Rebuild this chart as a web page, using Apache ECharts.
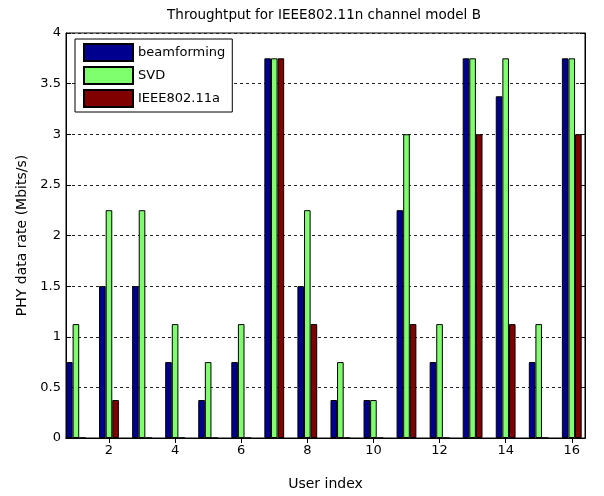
<!DOCTYPE html>
<html>
<head>
<meta charset="utf-8">
<script src="https://cdn.jsdelivr.net/npm/echarts@6/dist/echarts.min.js"></script>
<style>
    html, body { margin: 0; padding: 0; background: #fff; }
    #bar-chart { width: 604px; height: 496px; }
</style>
</head>
<body>
<div id="bar-chart"></div>
<script>
    // user index 1..16
    var users = [1, 2, 3, 4, 5, 6, 7, 8, 9, 10, 11, 12, 13, 14, 15, 16];
    var beamforming = [0.75, 1.5, 1.5, 0.75, 0.375, 0.75, 3.75, 1.5, 0.375, 0.375, 2.25, 0.75, 3.75, 3.375, 0.75, 3.75];
    var svd = [1.125, 2.25, 2.25, 1.125, 0.75, 1.125, 3.75, 2.25, 0.75, 0.375, 3.0, 1.125, 3.75, 3.75, 1.125, 3.75];
    var ieee80211a = [0, 0.375, 0, 0, 0, 0, 3.75, 1.125, 0, 0, 1.125, 0, 3.0, 1.125, 0, 3.0];
    var xTicks = [2, 4, 6, 8, 10, 12, 14, 16];

    var font = "'DejaVu Sans', sans-serif";

    function pairs(vals) {
        return users.map(function (u, i) { return [u, vals[i]]; });
    }

    function barSeries(name, vals, color) {
        return {
            name: name,
            type: 'bar',
            data: pairs(vals),
            barWidth: 6.6,
            barGap: '0%',
            itemStyle: {
                color: color,
                borderColor: '#000',
                borderWidth: 1
            }
        };
    }

    var myChart = echarts.init(document.getElementById('bar-chart'));
    myChart.setOption({
        animation: false,
        backgroundColor: '#fff',
        textStyle: { fontFamily: font },
        title: {
            text: 'Throughtput for IEEE802.11n channel model B',
            left: 319,
            top: 3,
            textAlign: 'center',
            textStyle: { fontSize: 13.5, fontWeight: 'normal', color: '#000', fontFamily: font }
        },
        legend: {
            orient: 'vertical',
            left: 75,
            top: 39,
            padding: [4, 7, 4, 8],
            itemWidth: 49,
            itemHeight: 17,
            itemGap: 4,
            icon: 'rect',
            borderColor: '#000',
            borderWidth: 1,
            backgroundColor: '#fff',
            textStyle: { fontSize: 13, lineHeight: 17, color: '#000', fontFamily: font },
            data: ['beamforming', 'SVD', 'IEEE802.11a']
        },
        grid: {
            left: 66,
            right: 19,
            top: 33,
            bottom: 56,
            show: true,
            borderColor: '#000',
            borderWidth: 1
        },
        xAxis: [{
            type: 'value',
            min: 0.7,
            max: 16.4,
            name: 'User index',
            nameLocation: 'middle',
            nameGap: 39,
            nameTextStyle: { fontSize: 14, color: '#000', fontFamily: font },
            axisLine: { show: true, lineStyle: { color: '#000' } },
            axisTick: { show: true, inside: true, length: 5, customValues: xTicks, lineStyle: { color: '#000' } },
            axisLabel: { customValues: xTicks, margin: 6, fontSize: 13, color: '#000' },
            splitLine: { show: false }
        }, {
            type: 'value',
            position: 'top',
            min: 0.7,
            max: 16.4,
            axisLine: { show: true, lineStyle: { color: '#000' } },
            axisTick: { show: true, inside: true, length: 5, customValues: xTicks, lineStyle: { color: '#000' } },
            axisLabel: { show: false },
            splitLine: { show: false }
        }],
        yAxis: [{
            type: 'value',
            min: 0,
            max: 4,
            interval: 0.5,
            name: 'PHY data rate (Mbits/s)',
            nameLocation: 'middle',
            nameRotate: 90,
            nameGap: 37,
            nameTextStyle: { fontSize: 14, color: '#000', fontFamily: font },
            axisLine: { show: true, lineStyle: { color: '#000' } },
            axisTick: { show: true, inside: true, length: 5, lineStyle: { color: '#000' } },
            axisLabel: { margin: 5, fontSize: 13, color: '#000' },
            splitLine: { show: true, lineStyle: { color: '#222', type: [3, 3], width: 1 } }
        }, {
            type: 'value',
            position: 'right',
            min: 0,
            max: 4,
            interval: 0.5,
            axisLine: { show: true, lineStyle: { color: '#000' } },
            axisTick: { show: true, inside: true, length: 5, lineStyle: { color: '#000' } },
            axisLabel: { show: false },
            splitLine: { show: false }
        }],
        series: [
            barSeries('beamforming', beamforming, '#00008f'),
            barSeries('SVD', svd, '#80ff6e'),
            barSeries('IEEE802.11a', ieee80211a, '#800000')
        ]
    });
</script>
</body>
</html>
